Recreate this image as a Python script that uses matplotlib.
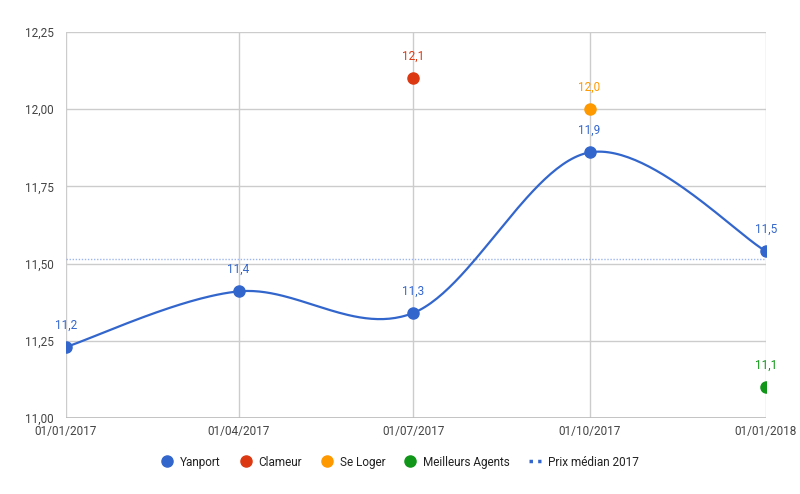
import numpy as np
import matplotlib.pyplot as plt
import matplotlib.dates as mdates
from matplotlib.lines import Line2D
from matplotlib.ticker import FuncFormatter
import datetime as dt

plt.rcParams['font.family'] = ['Roboto', 'DejaVu Sans']

# données
dates = [dt.date(2017, 1, 1), dt.date(2017, 4, 1), dt.date(2017, 7, 1),
         dt.date(2017, 10, 1), dt.date(2018, 1, 1)]
yanport = [11.23, 11.41, 11.34, 11.86, 11.54]
clameur_date, clameur_val = dt.date(2017, 7, 1), 12.10
seloger_date, seloger_val = dt.date(2017, 10, 1), 12.00
ma_date, ma_val = dt.date(2018, 1, 1), 11.10
median_2017 = 11.515

c_yan, c_cla, c_sel, c_ma = '#3366cc', '#dc3912', '#ff9900', '#109618'

def fr(v, d=1):
    return f"{v:.{d}f}".replace('.', ',')

fig = plt.figure(figsize=(8, 4.94), dpi=100)
ax = fig.add_axes([66/800, 76/494, 700/800, 386/494])

# courbe lissée (Catmull-Rom)
xn = mdates.date2num(dates)
yv = np.array(yanport)
px = np.concatenate([[xn[0]], xn, [xn[-1]]])
py = np.concatenate([[yv[0]], yv, [yv[-1]]])
cx, cy = [], []
t = np.linspace(0, 1, 60)
for i in range(1, len(px) - 2):
    p0, p1, p2, p3 = (np.array([px[j], py[j]]) for j in range(i - 1, i + 3))
    b1 = p1 + (p2 - p0) / 6
    b2 = p2 - (p3 - p1) / 6
    pts = ((1-t)**3)[:, None]*p1 + (3*(1-t)**2*t)[:, None]*b1 + (3*(1-t)*t**2)[:, None]*b2 + (t**3)[:, None]*p2
    cx.extend(pts[:, 0]); cy.extend(pts[:, 1])
ax.plot(cx, cy, color=c_yan, lw=1.6, zorder=3)
ax.plot(xn, yv, 'o', color=c_yan, ms=8, zorder=4)

ax.axhline(median_2017, color='#9db5ee', lw=1, ls=(0, (1, 1.2)), zorder=2)

ax.plot(mdates.date2num(clameur_date), clameur_val, 'o', color=c_cla, ms=8, zorder=4)
ax.plot(mdates.date2num(seloger_date), seloger_val, 'o', color=c_sel, ms=8, zorder=4)
ax.plot(mdates.date2num(ma_date), ma_val, 'o', color=c_ma, ms=8, zorder=4)

def lab(x, y, c):
    ax.annotate(fr(y), (x, y), xytext=(0, 11), textcoords='offset points',
                ha='center', va='bottom', color=c, fontsize=8.5)

for x, y in zip(xn, yv):
    lab(x, y, c_yan)
lab(mdates.date2num(clameur_date), clameur_val, c_cla)
lab(mdates.date2num(seloger_date), seloger_val, c_sel)
lab(mdates.date2num(ma_date), ma_val, c_ma)

ax.set_xlim(xn[0], xn[-1])
ax.set_ylim(11.0, 12.25)
ax.set_yticks(np.arange(11.0, 12.26, 0.25))
ax.yaxis.set_major_formatter(FuncFormatter(lambda v, p: fr(v, 2)))
ax.set_xticks(xn)
ax.set_xticklabels([d.strftime('%d/%m/%Y') for d in dates])
ax.grid(True, color='#cccccc', lw=1)
ax.set_axisbelow(True)
for s in ax.spines.values():
    s.set_visible(False)
ax.tick_params(length=0, colors='#444444', labelsize=8.5)
ax.tick_params(axis='x', pad=5)
ax.tick_params(axis='y', pad=9)
for tl in ax.get_yticklabels():
    tl.set_va('center_baseline')
ax.axhline(11.0, color='#bbbbbb', lw=1.2, zorder=1)

handles = [
    Line2D([], [], marker='o', ls='', color=c_yan, ms=8, label='Yanport'),
    Line2D([], [], marker='o', ls='', color=c_cla, ms=8, label='Clameur'),
    Line2D([], [], marker='o', ls='', color=c_sel, ms=8, label='Se Loger'),
    Line2D([], [], marker='o', ls='', color=c_ma, ms=8, label='Meilleurs Agents'),
    Line2D([], [], color=c_yan, lw=2.5, ls=(0, (1, 1.5)), label='Prix médian 2017'),
]
fig.legend(handles=handles, loc='center', bbox_to_anchor=(0.5, 1 - 462/494), ncol=5,
           frameon=False, fontsize=8.5, handlelength=1.0, handletextpad=0.6,
           columnspacing=1.6, labelcolor='#222222')

fig.savefig('out.png', dpi=100)
